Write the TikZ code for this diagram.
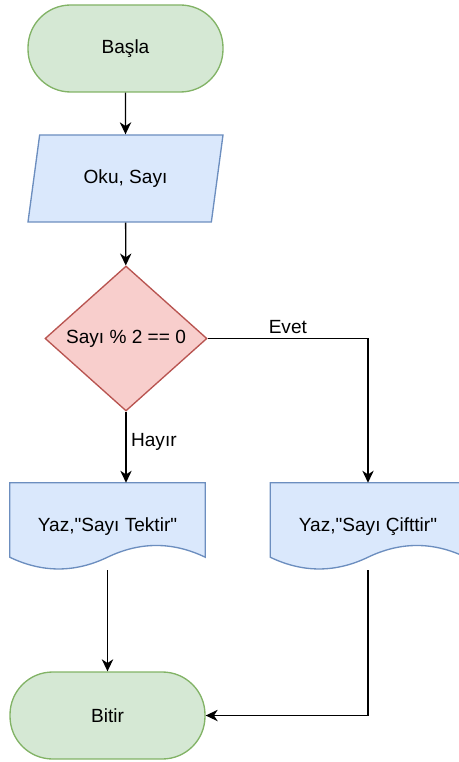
\documentclass[tikz,border=0pt]{standalone}
\usepackage{fontspec}
\setmainfont{Liberation Sans}
\usetikzlibrary{shapes.geometric,arrows.meta,calc,backgrounds}

\definecolor{termfill}{HTML}{D5E8D4}
\definecolor{termline}{HTML}{82B366}
\definecolor{iofill}{HTML}{DAE8FC}
\definecolor{ioline}{HTML}{6C8EBF}
\definecolor{decfill}{HTML}{F8CECC}
\definecolor{decline}{HTML}{B85450}

\tikzset{
  TermStyle/.style = { rectangle, rounded corners=32pt,
                       fill = termfill, draw = termline, line width=1pt,
                       minimum width=146.25pt, minimum height=65.25pt},
  IOStyle/.style = { trapezium, trapezium left angle=66.4,
                     trapezium right angle=113.6, trapezium stretches body,
                     fill = iofill, draw = ioline, line width=1pt,
                     minimum width=146.25pt, minimum height=65.25pt},
  DecStyle/.style = { diamond, inner sep=0pt,
                      fill = decfill, draw = decline, line width=1pt,
                      minimum width=121.5pt, minimum height=108.75pt},
  DocStyle/.style = { rectangle, minimum width=146.25pt, minimum height=65.25pt},
  DocShape/.style = { fill = iofill, draw = ioline, line width=1pt},
  EdgeStyle/.style = { -{Stealth[length=9pt,width=8.5pt,inset=2.8pt]}, line width=1pt},
  LabelStyle/.style = { font = \fontsize{14.3}{17}\selectfont }
}

% document symbol with a wavy bottom, drawn round a node
\newcommand{\docshape}[1]{%
  \draw[DocShape] (#1.north west) -- (#1.north east) -- ([yshift=9.79pt]#1.south east)
    .. controls ($(#1.south west)!0.8333!(#1.south east)+(0,21.53pt)$)
       and ($(#1.south west)!0.6667!(#1.south east)+(0,21.53pt)$) .. ([yshift=9.79pt]#1.south)
    .. controls ($(#1.south west)!0.3333!(#1.south east)+(0,-1.96pt)$)
       and ($(#1.south west)!0.1667!(#1.south east)+(0,-1.96pt)$) .. ([yshift=9.79pt]#1.south west)
    -- cycle;}

\begin{document}
\begin{tikzpicture}[x=0.75pt, y=-0.75pt, font=\fontsize{14.3}{17}\selectfont]
  \useasboundingbox (0,0) rectangle (458,762);
  \node[TermStyle](start) at (125.5,48.5) {Başla};
  \node[IOStyle](input) at (125.5,178.5) {Oku, Sayı};
  \node[DecStyle](dec) at (126,338.5) {Sayı \% 2 == 0};
  \node[DocStyle](tek) at (107.5,526.5) {\raisebox{-2pt}{Yaz,\textquotedbl Sayı Tektir\textquotedbl}};
  \node[DocStyle](cift) at (368,526.5) {\raisebox{-2pt}{Yaz,\textquotedbl Sayı Çifttir\textquotedbl}};
  \node[TermStyle](end) at (107.5,715.5) {Bitir};
  \begin{scope}[on background layer]
    \docshape{tek}
    \docshape{cift}
  \end{scope}
  \draw[EdgeStyle] (start) -- (input);
  \draw[EdgeStyle] (input) -- (dec);
  \draw[EdgeStyle] (dec.south) -- node[right, pos=0.43, LabelStyle]{Hayır} (dec.south |- tek.north);
  \draw[EdgeStyle] (dec.east) -- node[above, LabelStyle]{Evet} (dec.east -| cift.north) -- (cift.north);
  \draw[EdgeStyle] (tek.south) -- (end.north);
  \draw[EdgeStyle] (cift.south) |- (end.east);
\end{tikzpicture}
\end{document}
